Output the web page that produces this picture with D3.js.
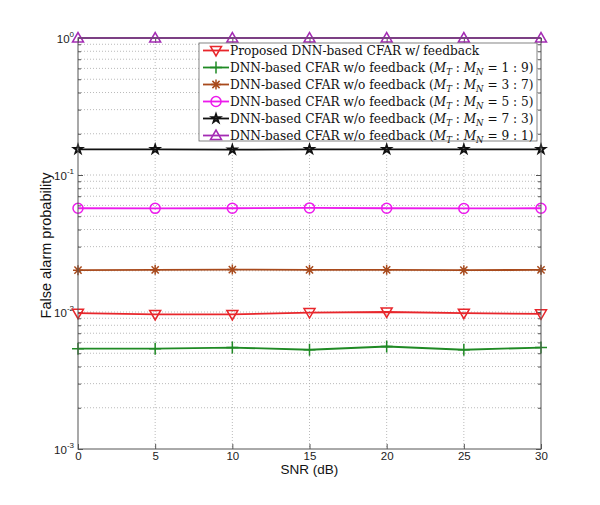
<!DOCTYPE html>
<html>
<head>
<meta charset="utf-8">
<script src="https://cdn.jsdelivr.net/npm/d3@7"></script>
<style>
  body { margin: 0; background: #fff; }
  svg { display: block; }
</style>
</head>
<body>
<div id="chart"></div>
<script>
(function () {
  // === DATA ===
  const snr = [0, 5, 10, 15, 20, 25, 30];

  const proposed = [0.0098, 0.0096, 0.0096, 0.0099, 0.0100, 0.0098, 0.0097];
  const ratio19  = [0.0054, 0.0054, 0.0055, 0.0053, 0.0056, 0.0053, 0.0055];
  const ratio37  = [0.0202, 0.0203, 0.0204, 0.0203, 0.0203, 0.0202, 0.0203];
  const ratio55  = [0.0572, 0.0571, 0.0572, 0.0575, 0.0572, 0.0570, 0.0572];
  const ratio73  = [0.154, 0.154, 0.153, 0.154, 0.154, 0.154, 0.154];
  const ratio91  = [1.0, 1.0, 1.0, 1.0, 1.0, 1.0, 1.0];

  const xTicks = [0, 5, 10, 15, 20, 25, 30];
  const yDecades = [-3, -2, -1, 0];

  const series = [
    { name: "Proposed DNN-based CFAR w/ feedback", ratio: null, values: proposed, color: "#e8262b", marker: "tridown" },
    { name: "DNN-based CFAR w/o feedback", ratio: "1 : 9", values: ratio19, color: "#1f8a24", marker: "plus" },
    { name: "DNN-based CFAR w/o feedback", ratio: "3 : 7", values: ratio37, color: "#a84a1c", marker: "asterisk" },
    { name: "DNN-based CFAR w/o feedback", ratio: "5 : 5", values: ratio55, color: "#ec1aec", marker: "circle" },
    { name: "DNN-based CFAR w/o feedback", ratio: "7 : 3", values: ratio73, color: "#111111", marker: "star" },
    { name: "DNN-based CFAR w/o feedback", ratio: "9 : 1", values: ratio91, color: "#a42cb4", marker: "triup" }
  ];

  // === LAYOUT ===
  const margin = { top: 38, right: 59, bottom: 56, left: 78 },
        width = 600 - margin.left - margin.right,
        height = 505 - margin.top - margin.bottom;

  const svg = d3.select("#chart")
    .append("svg")
      .attr("width", 600)
      .attr("height", 505);

  const g = svg.append("g")
      .attr("transform", `translate(${margin.left},${margin.top})`);

  // === SCALES ===
  const x = d3.scaleLinear().domain([0, 30]).range([0, width]);
  const y = d3.scaleLog().domain([1e-3, 1]).range([height, 0]);

  // minor log values
  const minor = [];
  yDecades.slice(0, -1).forEach(e => {
    for (let k = 2; k <= 9; k++) minor.push(k * Math.pow(10, e));
  });
  const majors = yDecades.map(e => Math.pow(10, e));

  // === GRID ===
  const grid = g.append("g")
    .attr("stroke", "#a8a8a8")
    .attr("stroke-width", 0.8)
    .attr("stroke-dasharray", "1,2");

  grid.selectAll(".hg")
    .data(minor.concat(majors.slice(1, -1)))
    .join("line")
      .attr("x1", 0).attr("x2", width)
      .attr("y1", d => y(d)).attr("y2", d => y(d));

  grid.selectAll(".vg")
    .data(xTicks.slice(1, -1))
    .join("line")
      .attr("x1", d => x(d)).attr("x2", d => x(d))
      .attr("y1", 0).attr("y2", height);

  // === AXES (MATLAB style, inward ticks, box) ===
  const axisColor = "#555";
  const xAxis = g.append("g")
    .attr("transform", `translate(0,${height})`)
    .call(d3.axisBottom(x).tickValues(xTicks).tickSizeInner(-5).tickSizeOuter(0).tickPadding(3));
  xAxis.select(".domain").remove();
  xAxis.selectAll("line").attr("stroke", axisColor);
  xAxis.selectAll("text")
    .attr("fill", "#222")
    .style("font-family", "'Liberation Sans', Arial, sans-serif")
    .style("font-size", "11.5px");

  const xTop = g.append("g")
    .call(d3.axisTop(x).tickValues(xTicks).tickSizeInner(-5).tickSizeOuter(0).tickFormat(""));
  xTop.select(".domain").remove();
  xTop.selectAll("line").attr("stroke", axisColor);

  const yAxis = g.append("g")
    .call(d3.axisLeft(y).tickValues(majors).tickSizeInner(-5).tickSizeOuter(0).tickFormat(""));
  yAxis.select(".domain").remove();
  yAxis.selectAll("line").attr("stroke", axisColor);

  const yRight = g.append("g")
    .attr("transform", `translate(${width},0)`)
    .call(d3.axisRight(y).tickValues(majors).tickSizeInner(-5).tickSizeOuter(0).tickFormat(""));
  yRight.select(".domain").remove();
  yRight.selectAll("line").attr("stroke", axisColor);

  const yMinorL = g.append("g")
    .call(d3.axisLeft(y).tickValues(minor).tickSizeInner(-3).tickSizeOuter(0).tickFormat(""));
  yMinorL.select(".domain").remove();
  yMinorL.selectAll("line").attr("stroke", axisColor);

  const yMinorR = g.append("g")
    .attr("transform", `translate(${width},0)`)
    .call(d3.axisRight(y).tickValues(minor).tickSizeInner(-3).tickSizeOuter(0).tickFormat(""));
  yMinorR.select(".domain").remove();
  yMinorR.selectAll("line").attr("stroke", axisColor);

  // y tick labels 10^e
  const yLab = g.append("g")
    .style("font-family", "'Liberation Sans', Arial, sans-serif")
    .attr("fill", "#222");
  yDecades.forEach(e => {
    const t = yLab.append("text")
      .attr("x", -4)
      .attr("y", y(Math.pow(10, e)) + 5)
      .attr("text-anchor", "end")
      .style("font-size", "11.5px");
    t.append("tspan").text("10");
    t.append("tspan").attr("dy", -6).style("font-size", "8px").text(e);
  });

  // === LINES ===
  const line = d3.line()
    .x((d, i) => x(snr[i]))
    .y(d => y(d));

  series.forEach(s => {
    g.append("path")
      .datum(s.values)
      .attr("fill", "none")
      .attr("stroke", s.color)
      .attr("stroke-width", 1.8)
      .attr("d", line);
  });

  // markers
  function drawMarker(sel, type, color) {
    const sw = 1.5;
    if (type === "tridown") {
      sel.append("path").attr("d", "M-5.5,-4 L5.5,-4 L0,5.5 Z")
        .attr("fill", "none").attr("stroke", color).attr("stroke-width", sw);
    } else if (type === "triup") {
      sel.append("path").attr("d", "M-5.5,4 L5.5,4 L0,-5.5 Z")
        .attr("fill", "none").attr("stroke", color).attr("stroke-width", sw);
    } else if (type === "circle") {
      sel.append("circle").attr("r", 5)
        .attr("fill", "none").attr("stroke", color).attr("stroke-width", sw);
    } else if (type === "plus") {
      sel.append("path").attr("d", "M-6,0 L6,0 M0,-6 L0,6")
        .attr("stroke", color).attr("stroke-width", sw);
    } else if (type === "asterisk") {
      sel.append("path").attr("d", "M-5,0 L5,0 M0,-5 L0,5 M-3.6,-3.6 L3.6,3.6 M-3.6,3.6 L3.6,-3.6")
        .attr("stroke", color).attr("stroke-width", sw);
    } else if (type === "star") {
      sel.append("path")
        .attr("d", d3.symbol().type(d3.symbolStar).size(22)())
        .attr("fill", "none").attr("stroke", color).attr("stroke-width", 1.8);
    }
  }

  series.forEach(s => {
    s.values.forEach((v, i) => {
      const m = g.append("g").attr("transform", `translate(${x(snr[i])},${y(v)})`);
      drawMarker(m, s.marker, s.color);
    });
  });

  // box
  g.append("rect")
    .attr("x", 0).attr("y", 0)
    .attr("width", width).attr("height", height)
    .attr("fill", "none")
    .attr("stroke", axisColor)
    .attr("stroke-width", 1);

  // === LEGEND ===
  const lx = 199, ly = 43, lw = 338, lh = 98, rowH = 17;
  const legend = svg.append("g");
  legend.append("rect")
    .attr("x", lx).attr("y", ly)
    .attr("width", lw).attr("height", lh)
    .attr("fill", "#fff")
    .attr("stroke", "#666")
    .attr("stroke-width", 0.8);

  const texts = [];
  series.forEach((s, i) => {
    const cy = ly + 7.5 + i * rowH;
    legend.append("line")
      .attr("x1", lx + 4).attr("x2", lx + 30)
      .attr("y1", cy).attr("y2", cy)
      .attr("stroke", s.color).attr("stroke-width", 1.8);
    drawMarker(legend.append("g").attr("transform", `translate(${lx + 17},${cy})`), s.marker, s.color);

    const t = legend.append("text")
      .attr("x", lx + 31)
      .attr("y", cy + 5)
      .attr("fill", "#111")
      .style("font-family", "'DejaVu Serif', 'Liberation Serif', serif")
      .style("font-size", "13.5px");
    t.append("tspan").text(s.name);
    if (s.ratio) {
      t.append("tspan").text(" (");
      t.append("tspan").style("font-style", "italic").text("M");
      t.append("tspan").attr("dy", 3).style("font-size", "9.5px").style("font-style", "italic").text("T");
      t.append("tspan").attr("dy", -3).text(" : ");
      t.append("tspan").style("font-style", "italic").text("M");
      t.append("tspan").attr("dy", 3).style("font-size", "9.5px").style("font-style", "italic").text("N");
      t.append("tspan").attr("dy", -3).text(" = " + s.ratio + ")");
    }
    texts.push(t);
  });

  // fit legend text width to the box (longest row about 305px)
  const widest = d3.max(texts, t => t.node().getComputedTextLength());
  const k = 304 / widest;
  texts.forEach(t => {
    t.attr("transform", `translate(${lx + 31},0) scale(${k},1) translate(${-(lx + 31)},0)`);
  });

  // === AXIS LABELS ===
  svg.append("text")
    .attr("x", margin.left + width / 2)
    .attr("y", 474)
    .attr("text-anchor", "middle")
    .attr("fill", "#111")
    .style("font-family", "'Liberation Sans', Arial, sans-serif")
    .style("font-size", "13.5px")
    .text("SNR (dB)");

  svg.append("text")
    .attr("transform", `translate(51,${margin.top + height / 2 + 2}) rotate(-90)`)
    .attr("text-anchor", "middle")
    .attr("fill", "#111")
    .style("font-family", "'Liberation Sans', Arial, sans-serif")
    .style("font-size", "14.5px")
    .text("False alarm probability");
})();
</script>
</body>
</html>
